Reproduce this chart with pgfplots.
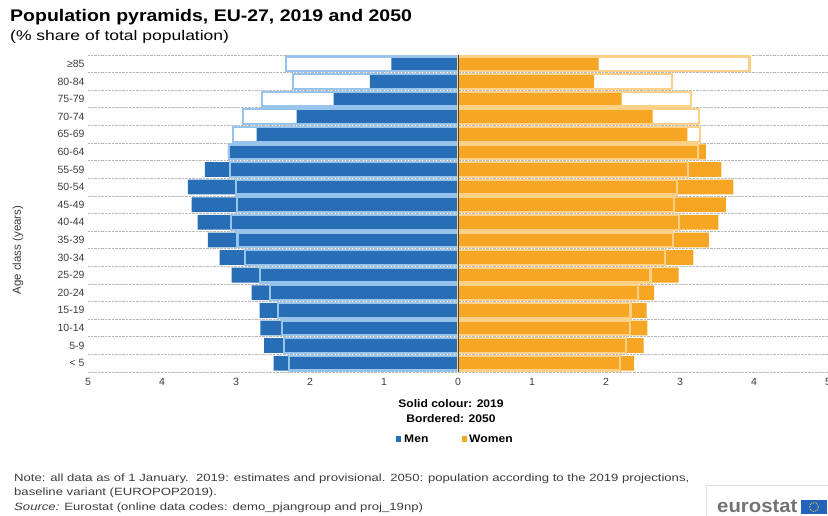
\documentclass[border=0pt]{standalone}
\usepackage{pgfplots}
\usepackage{pgfplotstable}
\pgfplotsset{compat=1.18}
\usepackage{fontspec}
\setmainfont{Liberation Sans}
\definecolor{menblue}{RGB}{40,110,182}
\definecolor{womorange}{RGB}{246,166,35}
\definecolor{menborder}{RGB}{150,196,236}
\definecolor{womborder}{RGB}{252,208,135}
\definecolor{txtgray}{RGB}{60,60,60}

\pgfplotstableread{
y m19 m50 w19 w50
0  2.49 2.28 2.38 2.19
1  2.62 2.35 2.51 2.27
2  2.67 2.38 2.56 2.32
3  2.68 2.43 2.55 2.33
4  2.79 2.54 2.65 2.43
5  3.06 2.68 2.98 2.60
6  3.22 2.88 3.18 2.80
7  3.38 2.98 3.39 2.91
8  3.52 3.07 3.52 2.99
9  3.60 2.99 3.62 2.92
10 3.65 3.00 3.72 2.96
11 3.42 3.08 3.56 3.11
12 3.11 3.09 3.35 3.24
13 2.72 3.04 3.10 3.27
14 2.18 2.91 2.63 3.26
15 1.68 2.65 2.21 3.15
16 1.19 2.23 1.84 2.89
17 0.90 2.32 1.90 3.94
}\pyr

\begin{document}
\begin{tikzpicture}[x=1pt,y=1pt]
\useasboundingbox (0,0) rectangle (828,-516);
\node[anchor=base west,inner sep=0] at (10,-22) {\scalebox{1.16}[1]{\bfseries\fontsize{16.8}{18}\selectfont Population pyramids, EU-27, 2019 and 2050}};
\node[anchor=base west,inner sep=0] at (10,-41) {\scalebox{1.25}[1]{\fontsize{14}{16}\selectfont (\% share of total population)}};

\begin{axis}[
  at={(88pt,-372pt)}, anchor=south west,
  scale only axis, width=740pt, height=317pt,
  xmin=-5, xmax=5, ymin=-0.5, ymax=17.5,
  xtick={-5,-4,...,5},
  xticklabel={\pgfmathparse{abs(\tick)}\pgfmathprintnumber[fixed,precision=0]{\pgfmathresult}},
  ytick={0,...,17},
  yticklabels={< 5,5-9,10-14,15-19,20-24,25-29,30-34,35-39,40-44,45-49,50-54,55-59,60-64,65-69,70-74,75-79,80-84,≥85},
  minor ytick={-0.5,0.5,...,17.5},
  yminorgrids=true,
  minor grid style={densely dotted, gray!55, line width=0.7pt},
  major tick length=0pt, minor tick length=0pt,
  axis line style={draw=none},
  tick label style={font=\fontsize{10.5}{12}\selectfont, text=txtgray},
  xticklabel style={yshift=-3pt},
  /pgf/number format/assume math mode=true,
  xbar, bar shift=0pt, bar width=0.84,
  clip=false,
]
\addplot[draw=none, fill=menblue] table[x expr=-\thisrow{m19}, y=y] {\pyr};
\addplot[draw=none, fill=womorange] table[x=w19, y=y] {\pyr};
\addplot[draw=menborder, fill=none, line width=2.2pt] table[x expr=-\thisrow{m50}, y=y] {\pyr};
\addplot[draw=womborder, fill=none, line width=2.2pt] table[x=w50, y=y] {\pyr};
\draw[gray!60!black, line width=0.8pt] (axis cs:0,-0.5) -- (axis cs:0,17.5);
\end{axis}

\node[rotate=90,inner sep=0] at (18,-250) {\fontsize{11.5}{13}\selectfont\color{txtgray}Age class (years)};

\node[anchor=base,inner sep=0] at (451,-407) {\scalebox{1.1}[1]{\bfseries\fontsize{11}{13}\selectfont Solid colour: 2019}};
\node[anchor=base,inner sep=0] at (451,-422) {\scalebox{1.1}[1]{\bfseries\fontsize{11}{13}\selectfont Bordered: 2050}};
\fill[menblue] (396,-442) rectangle (401,-436);
\node[anchor=base west,inner sep=0] at (404,-442) {\scalebox{1.1}[1]{\bfseries\fontsize{11}{13}\selectfont Men}};
\fill[womorange] (462,-442) rectangle (467,-436);
\node[anchor=base west,inner sep=0] at (469,-442) {\scalebox{1.1}[1]{\bfseries\fontsize{11}{13}\selectfont Women}};

\node[anchor=base west,inner sep=0] at (14,-481) {\scalebox{1.25}[1]{\fontsize{10.5}{12}\selectfont\color{txtgray}Note: all data as of 1 January.\ \ 2019: estimates and provisional. 2050: population according to the 2019 projections,}};
\node[anchor=base west,inner sep=0] at (14,-495) {\scalebox{1.25}[1]{\fontsize{10.5}{12}\selectfont\color{txtgray}baseline variant (EUROPOP2019).}};
\node[anchor=base west,inner sep=0] at (14,-510) {\scalebox{1.25}[1]{\fontsize{10.5}{12}\selectfont\color{txtgray}\textit{Source:} Eurostat (online data codes: demo\_pjangroup and proj\_19np)}};

\draw[gray!25, line width=0.8pt] (706,-518) -- (706,-485) -- (830,-485);
\node[anchor=base west,inner sep=0] at (717,-512) {\scalebox{1.07}[1]{\bfseries\fontsize{19}{21}\selectfont\color{gray!90!black}eurostat}};
\fill[menblue!90!blue] (801,-500) rectangle (827,-514);
\draw[yellow!80!orange, densely dotted, line width=0.8pt] (814,-507) circle (4.5);
\end{tikzpicture}
\end{document}
